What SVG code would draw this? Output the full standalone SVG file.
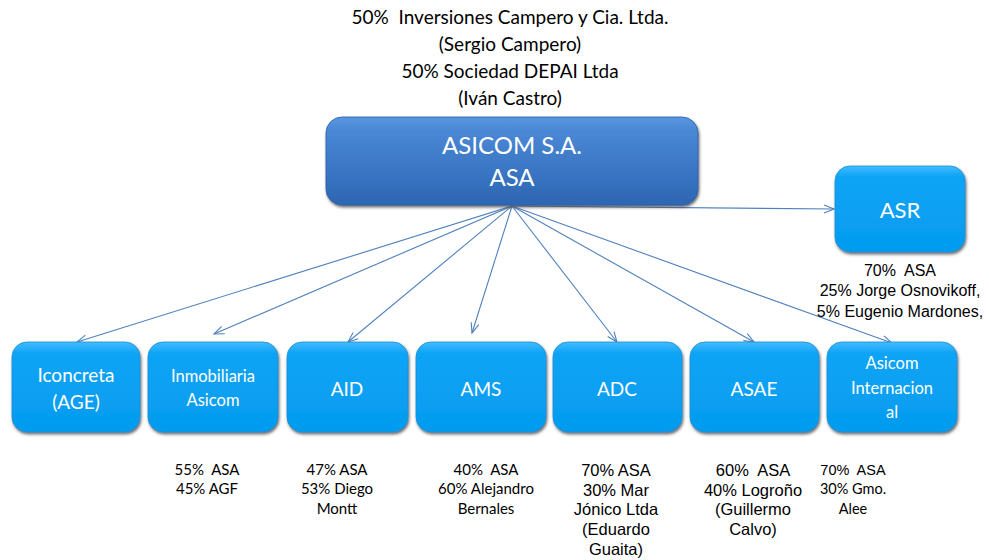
<svg xmlns="http://www.w3.org/2000/svg" width="989" height="560" viewBox="0 0 989 560">
<style>
text{white-space:pre;}
.cal{font-family:Lato,"Open Sans","Liberation Sans",sans-serif;}
.ari{font-family:"Liberation Sans",Arial,sans-serif;}
.lbl{fill:#000;text-anchor:middle;}
.bt{fill:#fff;text-anchor:middle;}
.box{fill:url(#gBox);stroke:#1a8fd6;stroke-width:0.8;filter:url(#sh);}
.conn{stroke:#4f81bd;stroke-width:1.1;fill:none;marker-end:url(#ah);}
</style>
<defs>
<linearGradient id="gBox" x1="0" y1="0" x2="0" y2="1">
<stop offset="0" stop-color="#44bcff"/>
<stop offset="0.12" stop-color="#10a4f6"/>
<stop offset="1" stop-color="#039bef"/>
</linearGradient>
<linearGradient id="gTop" x1="0" y1="0" x2="0" y2="1">
<stop offset="0" stop-color="#5a97e0"/>
<stop offset="0.15" stop-color="#4a88d6"/>
<stop offset="1" stop-color="#2d66b3"/>
</linearGradient>
<filter id="sh" x="-10%" y="-10%" width="120%" height="130%">
<feDropShadow dx="1" dy="2" stdDeviation="1.6" flood-color="#444" flood-opacity="0.8"/>
</filter>
<marker id="ah" markerUnits="userSpaceOnUse" markerWidth="12" markerHeight="10" refX="11" refY="5" orient="auto">
<path d="M1,1 L11,5 L1,9" fill="none" stroke="#4f81bd" stroke-width="1.1"/>
</marker>
</defs>

<g id="owners" class="cal lbl" font-size="19">
<text x="510" y="24">50%  Inversiones Campero y Cia. Ltda.</text>
<text x="510" y="51">(Sergio Campero)</text>
<text x="510" y="78">50% Sociedad DEPAI Ltda</text>
<text x="510" y="105">(Iván Castro)</text>
</g>

<g id="connectors">
<line class="conn" x1="512" y1="206" x2="77" y2="342"/>
<line class="conn" x1="512" y1="206" x2="214" y2="334"/>
<line class="conn" x1="512" y1="206" x2="348" y2="342"/>
<line class="conn" x1="512" y1="206" x2="472" y2="333"/>
<line class="conn" x1="512" y1="206" x2="617" y2="342"/>
<line class="conn" x1="512" y1="206" x2="754" y2="342"/>
<line class="conn" x1="512" y1="206" x2="892" y2="343"/>
<line class="conn" x1="512" y1="206" x2="834" y2="209"/>
</g>

<g id="asicom">
<rect x="326" y="117" width="372" height="88" rx="16" fill="url(#gTop)" stroke="#2a5fa8" stroke-width="0.8" filter="url(#sh)"/>
<text class="cal bt" x="512" y="154" font-size="24">ASICOM S.A.</text>
<text class="cal bt" x="512" y="186" font-size="24">ASA</text>
</g>

<g id="asr">
<rect class="box" x="835" y="166" width="130" height="86" rx="15"/>
<text class="cal bt" x="900" y="218" font-size="22">ASR</text>
<g class="ari lbl" font-size="16">
<text x="900" y="276">70%  ASA</text>
<text x="900" y="296">25% Jorge Osnovikoff,</text>
<text x="900" y="317">5% Eugenio Mardones,</text>
</g>
</g>

<g id="iconcreta">
<rect class="box" x="12" y="342" width="128" height="90" rx="15"/>
<text class="cal bt" x="76" y="382" font-size="19">Iconcreta</text>
<text class="cal bt" x="76" y="409" font-size="19">(AGE)</text>
</g>

<g id="inmobiliaria">
<rect class="box" x="148" y="342" width="130" height="90" rx="15"/>
<text class="cal bt" x="213" y="382" font-size="16.5">Inmobiliaria</text>
<text class="cal bt" x="213" y="406" font-size="16.5">Asicom</text>
<g class="cal lbl" font-size="15">
<text x="207" y="475">55%  ASA</text>
<text x="207" y="494">45% AGF</text>
</g>
</g>

<g id="aid">
<rect class="box" x="287" y="342" width="121" height="90" rx="15"/>
<text class="cal bt" x="347" y="396" font-size="19">AID</text>
<g class="cal lbl" font-size="15">
<text x="337" y="475">47% ASA</text>
<text x="337" y="494">53% Diego</text>
<text x="337" y="514">Montt</text>
</g>
</g>

<g id="ams">
<rect class="box" x="416" y="342" width="130" height="90" rx="15"/>
<text class="cal bt" x="481" y="396" font-size="19">AMS</text>
<g class="cal lbl" font-size="15">
<text x="486" y="475">40%  ASA</text>
<text x="486" y="494">60% Alejandro</text>
<text x="486" y="514">Bernales</text>
</g>
</g>

<g id="adc">
<rect class="box" x="553" y="342" width="129" height="90" rx="15"/>
<text class="cal bt" x="617" y="396" font-size="19">ADC</text>
<g class="ari lbl" font-size="16.5">
<text x="616" y="476">70% ASA</text>
<text x="616" y="496">30% Mar</text>
<text x="616" y="515">Jónico Ltda</text>
<text x="616" y="535">(Eduardo</text>
<text x="616" y="555">Guaita)</text>
</g>
</g>

<g id="asae">
<rect class="box" x="690" y="342" width="129" height="90" rx="15"/>
<text class="cal bt" x="754" y="396" font-size="19">ASAE</text>
<g class="ari lbl" font-size="16.5">
<text x="753" y="476">60%  ASA</text>
<text x="753" y="496">40% Logroño</text>
<text x="753" y="515">(Guillermo</text>
<text x="753" y="535">Calvo)</text>
</g>
</g>

<g id="asicom-internacional">
<rect class="box" x="827" y="342" width="130" height="90" rx="15"/>
<text class="cal bt" x="892" y="369" font-size="16.5">Asicom</text>
<text class="cal bt" x="892" y="394" font-size="16.5">Internacion</text>
<text class="cal bt" x="892" y="418" font-size="16.5">al</text>
<g class="lbl" font-size="14.5">
<text class="ari" x="853" y="475">70%  ASA</text>
<text class="cal" x="853" y="494">30% Gmo.</text>
<text class="cal" x="853" y="514">Alee</text>
</g>
</g>
</svg>
